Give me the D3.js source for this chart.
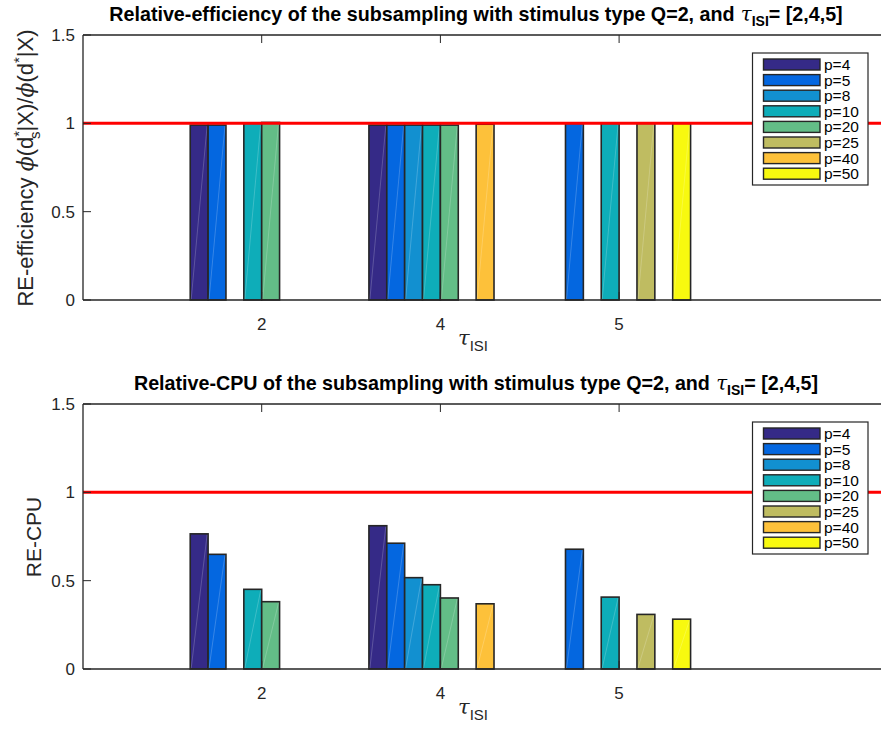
<!DOCTYPE html>
<html>
<head>
<meta charset="utf-8">
<script src="https://cdn.jsdelivr.net/npm/d3@7"></script>
<style>
html,body{margin:0;padding:0;background:#fff;}
svg{display:block;font-family:"Liberation Sans",Arial,Helvetica,sans-serif;}
</style>
</head>
<body>
<svg id="chart" width="881" height="729"></svg>
<script>
// ---- data ----
const categories = ["2", "4", "5"];
const seriesNames = ["p=4", "p=5", "p=8", "p=10", "p=20", "p=25", "p=40", "p=50"];
const seriesColors = ["#352A87", "#0467E0", "#1290D0", "#0EADB9", "#63BD87", "#BFBC61", "#FDC13A", "#F8F90F"];
// rows = categories (tau 2,4,5), columns = series p=4..50
const effValues = [
  [0.99, 0.99, 0, 1.00, 1.005, 0, 0, 0],
  [0.99, 0.99, 0.99, 0.99, 0.99, 0, 0.995, 0],
  [0, 1.00, 0, 1.00, 0, 1.00, 0, 1.00]
];
const cpuValues = [
  [0.765, 0.649, 0, 0.451, 0.381, 0, 0, 0],
  [0.811, 0.712, 0.517, 0.477, 0.402, 0, 0.369, 0],
  [0, 0.678, 0, 0.407, 0, 0.309, 0, 0.282]
];
const yTicks = [0, 0.5, 1, 1.5];
const yTickLabels = ["0", "0.5", "1", "1.5"];
const refLine = 1;

const svg = d3.select("#chart");
const axColor = "#262626";

function drawPanel(cfg) {
  const g = svg.append("g");
  const x = d3.scaleLinear().domain([0, 4.5]).range([cfg.left, cfg.left + 4.5 * 178.7]);
  const y = d3.scaleLinear().domain([0, 1.5]).range([cfg.bottom, cfg.top]);
  const nS = seriesNames.length;
  const groupW = 0.8;
  const barW = groupW / nS;

  // bars
  cfg.values.forEach((row, ci) => {
    const center = ci + 1;
    row.forEach((v, si) => {
      const x0 = center - groupW / 2 + si * barW;
      const px0 = x(x0), px1 = x(x0 + barW);
      g.append("rect")
        .attr("x", px0).attr("y", y(v))
        .attr("width", px1 - px0).attr("height", y(0) - y(v))
        .attr("fill", seriesColors[si])
        .attr("stroke", axColor).attr("stroke-width", 1.6);
      if (v > 0) {
        g.append("line")
          .attr("x1", px0 + 1).attr("y1", y(0) - 1)
          .attr("x2", px1 - 1).attr("y2", y(v) + 1)
          .attr("stroke", "#fff").attr("stroke-opacity", 0.25).attr("stroke-width", 0.8);
      }
    });
  });

  // reference line
  g.append("line")
    .attr("x1", x(0)).attr("x2", x(4.5))
    .attr("y1", y(refLine)).attr("y2", y(refLine))
    .attr("stroke", "#FF0000").attr("stroke-width", 3);

  // axes box
  const xr = x(4.5);
  g.append("path")
    .attr("d", `M${x(0)},${y(0)}H${xr}M${x(0)},${y(1.5)}H${xr}M${x(0)},${y(0)}V${y(1.5)}`)
    .attr("stroke", axColor).attr("stroke-width", 1.3).attr("fill", "none");

  // x ticks (inward, bottom and top)
  const xt = [1, 2, 3];
  xt.forEach((t, i) => {
    g.append("line").attr("x1", x(t)).attr("x2", x(t)).attr("y1", y(0)).attr("y2", y(0) - 8)
      .attr("stroke", axColor).attr("stroke-width", 1);
    g.append("line").attr("x1", x(t)).attr("x2", x(t)).attr("y1", y(1.5)).attr("y2", y(1.5) + 8)
      .attr("stroke", axColor).attr("stroke-width", 1);
    g.append("text").attr("x", x(t)).attr("y", y(0) + 30)
      .attr("text-anchor", "middle").attr("font-size", 17).attr("fill", axColor)
      .text(categories[i]);
  });
  // y ticks
  yTicks.forEach((t, i) => {
    g.append("line").attr("x1", x(0)).attr("x2", x(0) + 8).attr("y1", y(t)).attr("y2", y(t))
      .attr("stroke", axColor).attr("stroke-width", 1);
    g.append("text").attr("x", x(0) - 8).attr("y", y(t) + 6)
      .attr("text-anchor", "end").attr("font-size", 17).attr("fill", axColor)
      .text(yTickLabels[i]);
  });

  // x label tau_ISI
  const xl = g.append("text").attr("x", cfg.xlabelX).attr("y", y(0) + 45)
    .attr("text-anchor", "middle").attr("fill", axColor).attr("font-size", 21);
  xl.append("tspan").attr("font-family", "DejaVu Serif").attr("font-style", "italic").text("τ");
  xl.append("tspan").attr("font-size", 15).attr("dy", 6).text("ISI");

  // title
  const tt = g.append("text").attr("x", cfg.titleX).attr("y", cfg.top - 14)
    .attr("text-anchor", "middle").attr("fill", "#000").attr("font-size", 19.7)
    .attr("font-weight", "bold");
  tt.append("tspan").text(cfg.title);
  tt.append("tspan").attr("font-family", "DejaVu Serif").attr("font-style", "italic")
    .attr("font-weight", "normal").text(" τ");
  tt.append("tspan").attr("font-size", 14).attr("dy", 5).text("ISI");
  tt.append("tspan").attr("dy", -5).text("= [2,4,5]");

  // legend
  const lg = g.append("g");
  const lx = 752.5, ly = cfg.top + 18, lw = 115.5, lh = 132;
  lg.append("rect").attr("x", lx).attr("y", ly).attr("width", lw).attr("height", lh)
    .attr("fill", "#fff").attr("stroke", axColor).attr("stroke-width", 1.2);
  seriesNames.forEach((s, i) => {
    const cy = ly + 11.5 + i * 15.6;
    lg.append("rect").attr("x", lx + 11).attr("y", cy - 5.5).attr("width", 56.5).attr("height", 11)
      .attr("fill", seriesColors[i]).attr("stroke", axColor).attr("stroke-width", 1.4);
    lg.append("text").attr("x", lx + 71.5).attr("y", cy + 5.5)
      .attr("font-size", 15.5).attr("fill", "#000").text(s);
  });

  return g;
}

// top panel
drawPanel({
  values: effValues, left: 83, top: 35, bottom: 300,
  title: "Relative-efficiency of the subsampling with stimulus type Q=2, and",
  titleX: 476, xlabelX: 473
});
// y label top
const yl1 = svg.append("text").attr("transform", "translate(33,168) rotate(-90)")
  .attr("text-anchor", "middle").attr("font-size", 22).attr("fill", axColor);
yl1.append("tspan").text("RE-efficiency  ");
yl1.append("tspan").attr("font-family", "DejaVu Serif").attr("font-style", "italic").text("ϕ");
yl1.append("tspan").text("(d");
yl1.append("tspan").attr("font-size", 15).attr("dy", -9).text("*");
yl1.append("tspan").attr("font-size", 15).attr("dx", -8).attr("dy", 16).text("s");
yl1.append("tspan").attr("dy", -7).text("|X)/");
yl1.append("tspan").attr("font-family", "DejaVu Serif").attr("font-style", "italic").text("ϕ");
yl1.append("tspan").text("(d");
yl1.append("tspan").attr("font-size", 15).attr("dy", -9).text("*");
yl1.append("tspan").attr("dy", 9).text("|X)");

// bottom panel
drawPanel({
  values: cpuValues, left: 83, top: 404, bottom: 669,
  title: "Relative-CPU of the subsampling with stimulus type Q=2, and",
  titleX: 476, xlabelX: 473
});
svg.append("text").attr("transform", "translate(41,537) rotate(-90)")
  .attr("text-anchor", "middle").attr("font-size", 21).attr("fill", axColor)
  .text("RE-CPU");
</script>
</body>
</html>
